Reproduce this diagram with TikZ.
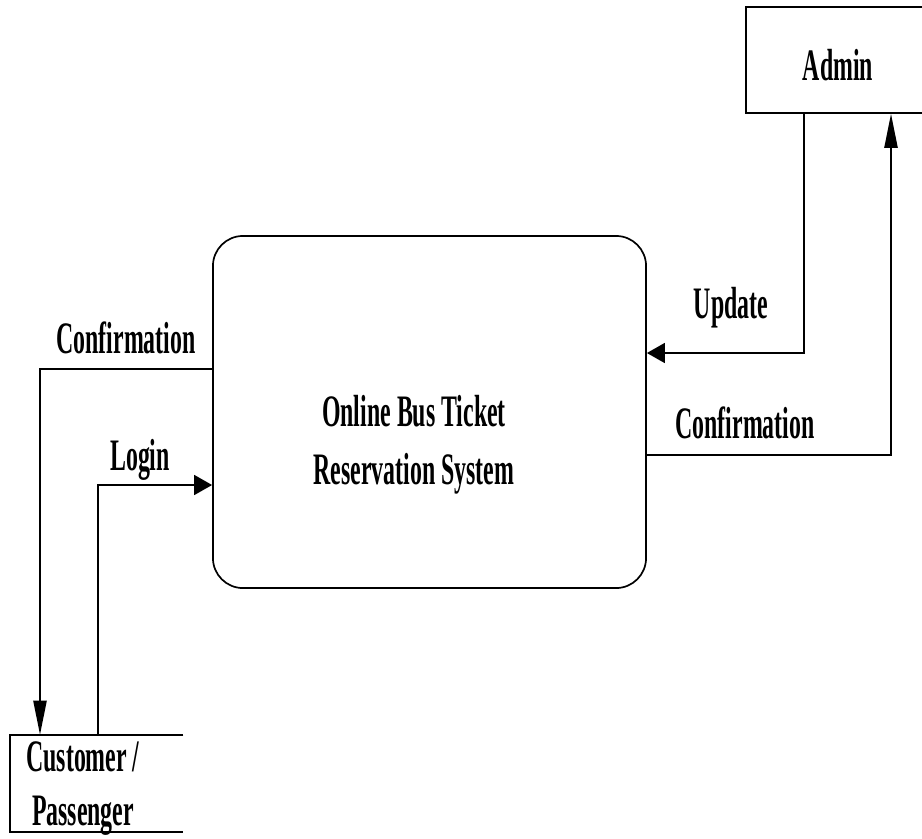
\documentclass[tikz,border=0pt]{standalone}
\usepackage{fontspec}
\setmainfont{Liberation Serif}[FakeStretch=0.53]
\usetikzlibrary{arrows.meta,positioning}
\tikzset{
  box/.style={draw, line width=1.2pt, inner sep=0pt},
  lbl/.style={font=\fontsize{32}{41}\selectfont\bfseries, inner sep=0pt},
  dataflow/.style={line width=1.2pt},
  harrow/.style={-{Triangle[length=0.45cm,width=0.5cm]}},
  varrow/.style={-{Triangle[length=0.85cm,width=0.33cm]}},
}
\begin{document}
\begin{tikzpicture}[x=0.025cm, y=-0.025cm]
 \useasboundingbox (0,0) rectangle (922,838);
 \clip (0,0) rectangle (922,838);

 % process
 \node[box, rounded corners=0.75cm, minimum width=10.825cm, minimum height=8.8cm] (sys) at (429.5,412) {};
 \node[lbl, align=center] (syslbl) at (414,445) {Online Bus Ticket\\Reservation System};

 % external entities
 \node[box, lbl, text height=1cm, text depth=0pt, minimum width=4.6cm, minimum height=2.65cm] (admin) at (838,60) {Admin};
 \node[inner sep=0pt, minimum width=4.325cm, minimum height=2.425cm] (cust) at (96.5,783.5) {};
 \draw[dataflow] (cust.north east) -- (cust.north west) -- (cust.south west) -- (cust.south east);
 \node[lbl, align=center, font=\fontsize{32}{38.4}\selectfont\bfseries] (custlbl) at (83,789) {Customer /\\Passenger};

 % flows
 \draw[dataflow, varrow] (sys.west |- 0,369) -| (cust.north -| 40,0);
 \node[lbl, anchor=base] (confleft) at (126,353) {Confirmation};
 \draw[dataflow, harrow] (cust.north -| 98,0) |- (sys.west |- 0,485);
 \node[lbl, anchor=base] (login) at (140,470) {Login};
 \draw[dataflow, harrow] (admin.south -| 804,0) |- (sys.east |- 0,353);
 \node[lbl, anchor=base] (update) at (731,318) {Update};
 \draw[dataflow, varrow] (sys.east |- 0,455) -| (admin.south -| 891,0);
 \node[lbl, anchor=base] (confright) at (745,438) {Confirmation};
\end{tikzpicture}
\end{document}
